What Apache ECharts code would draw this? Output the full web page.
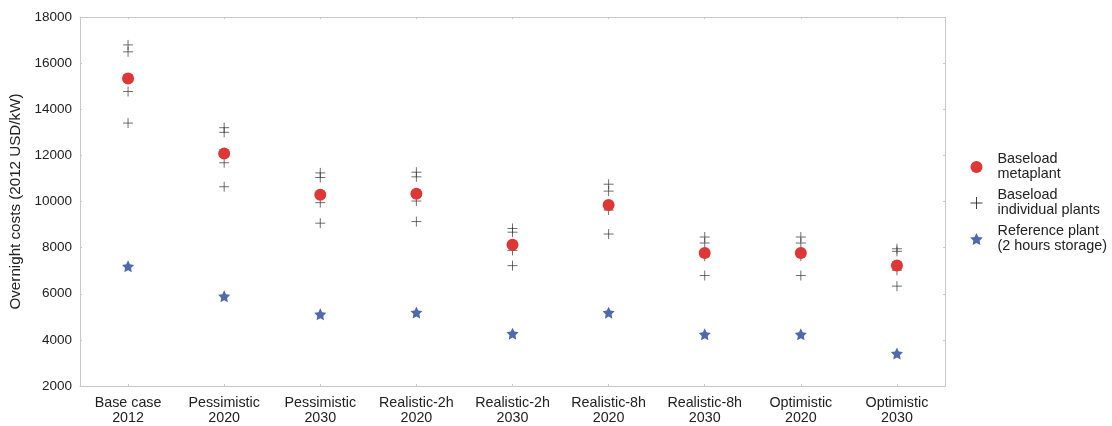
<!DOCTYPE html>
<html>
<head>
<meta charset="utf-8">
<script src="https://cdn.jsdelivr.net/npm/echarts@6/dist/echarts.min.js"></script>
<style>
html,body{margin:0;padding:0;background:#fff;}
#chart{width:1112px;height:426px;}
</style>
</head>
<body>
<div id="chart"></div>
<script>
var categories = ['Base case\n2012','Pessimistic\n2020','Pessimistic\n2030','Realistic-2h\n2020','Realistic-2h\n2030','Realistic-8h\n2020','Realistic-8h\n2030','Optimistic\n2020','Optimistic\n2030'];
var metaplant = [15330, 12080, 10290, 10340, 8120, 9850, 7770, 7770, 7230];
var plantA = [16790, 13200, 11240, 11270, 8830, 10750, 8460, 8460, 7950];
var plantB = [16490, 13000, 11040, 11070, 8670, 10450, 8200, 8200, 7840];
var plantC = [14770, 11680, 9950, 10020, 7880, 9630, 7630, 7630, 7020];
var plantD = [13400, 10640, 9060, 9130, 7220, 8590, 6790, 6790, 6330];
var reference = [7190, 5890, 5110, 5190, 4270, 5180, 4240, 4240, 3410];
var yTicks = {min: 2000, max: 18000, interval: 2000};

var starPath = 'path://M50,0 L64.69,29.77 L97.55,34.55 L73.78,57.73 L79.39,90.45 L50,75 L20.61,90.45 L26.22,57.73 L2.45,34.55 L35.31,29.77 Z';
var plusPath = 'path://M0,5 L10,5 M5,0 L5,10';

function pairs(arr){ return arr.map(function(v,i){ return [i, v]; }); }
var individual = [].concat(pairs(plantA), pairs(plantB), pairs(plantC), pairs(plantD));

var chart = echarts.init(document.getElementById('chart'));
var axisLine = {show:true, lineStyle:{color:'#c8c8c8', width:1}};
var axisTick = {show:true, inside:true, length:2, lineStyle:{color:'#c8c8c8'}};
var font = 'Liberation Sans, Arial, sans-serif';
chart.setOption({
  animation:false,
  backgroundColor:'#fff',
  grid:{left:80, right:167, top:17, bottom:38},
  xAxis:[{
    type:'category', data:categories, boundaryGap:true,
    axisLine:axisLine, axisTick:Object.assign({alignWithLabel:true}, axisTick),
    axisLabel:{color:'#222', fontSize:14.3, fontFamily:font, lineHeight:15, margin:10, interval:0},
    splitLine:{show:false}
  },{
    type:'category', data:categories, position:'top', boundaryGap:true,
    axisLine:axisLine, axisTick:Object.assign({alignWithLabel:true}, axisTick),
    axisLabel:{show:false}, splitLine:{show:false}
  }],
  yAxis:[{
    type:'value', min:yTicks.min, max:yTicks.max, interval:yTicks.interval,
    name:'Overnight costs (2012 USD/kW)', nameLocation:'middle', nameGap:55,
    nameTextStyle:{color:'#222', fontSize:15.2, fontFamily:font},
    axisLine:axisLine, axisTick:axisTick,
    axisLabel:{color:'#222', fontSize:13.5, fontFamily:font, margin:8, formatter:function(v){return String(v);}},
    splitLine:{show:false}
  },{
    type:'value', min:yTicks.min, max:yTicks.max, interval:yTicks.interval, position:'right',
    axisLine:axisLine, axisTick:axisTick, axisLabel:{show:false}, splitLine:{show:false}
  }],
  legend:{
    orient:'vertical', left:963, top:147, itemGap:6, itemWidth:14, itemHeight:12,
    textStyle:{color:'#222', fontSize:14.4, fontFamily:font, lineHeight:15, padding:[0,0,0,9]},
    data:[
      {name:'Baseload\nmetaplant', icon:'circle'},
      {name:'Baseload\nindividual plants', icon:plusPath, itemStyle:{color:'none', borderColor:'#111', borderWidth:1}},
      {name:'Reference plant\n(2 hours storage)', icon:starPath}
    ]
  },
  series:[{
    name:'Baseload\nindividual plants', type:'scatter', data:individual,
    symbol:plusPath, symbolSize:10,
    itemStyle:{color:'none', borderColor:'rgba(55,55,55,0.9)', borderWidth:1}, z:3
  },{
    name:'Baseload\nmetaplant', type:'scatter', data:pairs(metaplant),
    symbol:'circle', symbolSize:12,
    itemStyle:{color:'#df3636', opacity:1}, z:4
  },{
    name:'Reference plant\n(2 hours storage)', type:'scatter', data:pairs(reference),
    symbol:starPath, symbolSize:12,
    itemStyle:{color:'#23449a'}, z:4
  }]
});
</script>
</body>
</html>
